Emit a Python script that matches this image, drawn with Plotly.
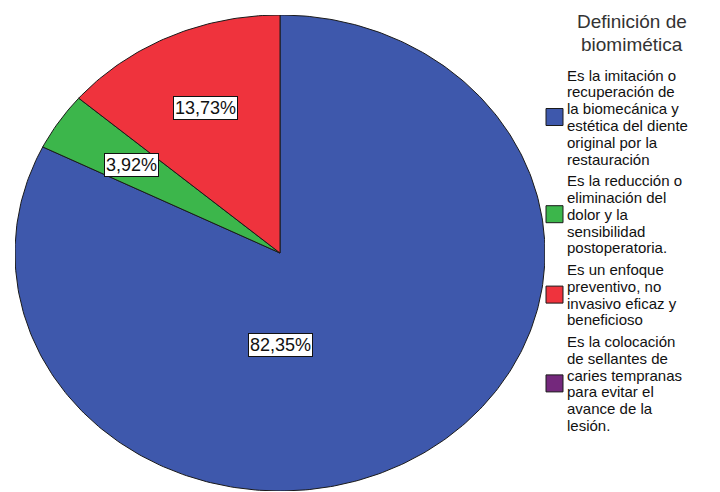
import numpy as np
import plotly.graph_objects as go

# ---------------- data ----------------
categories = [
    "Es la imitación o\nrecuperación de\nla biomecánica y\nestética del diente\noriginal por la\nrestauración",
    "Es la reducción o\neliminación del\ndolor y la\nsensibilidad\npostoperatoria.",
    "Es un enfoque\npreventivo, no\ninvasivo eficaz y\nbeneficioso",
    "Es la colocación\nde sellantes de\ncaries tempranas\npara evitar el\navance de la\nlesión.",
]
percentages = [82.35, 3.92, 13.73, 0.0]
value_labels = ["82,35%", "3,92%", "13,73%", ""]
legend_title_lines = ["Definición de", "biomimética"]

# ---------------- style ----------------
colors = ["#3E58AC", "#3CB64B", "#EF333D", "#74287C"]
W, H = 720, 492
PIE_LEFT, PIE_RIGHT, PIE_TOP, PIE_BOTTOM = 15, 545, 15, 491
LABEL_R = 0.67
LABEL_OVERRIDE = {0: (180.0, 0.387)}   # (angle deg, radius) for the big slice
FONT = "Liberation Sans, Arial, sans-serif"

fig = go.Figure()

total = sum(percentages)
fracs = [p / total for p in percentages]
cum = np.concatenate([[0.0], np.cumsum(fracs)])

annotations = []
for i, f in enumerate(fracs):
    if f <= 0:
        continue
    a0, a1 = cum[i] * 2 * np.pi, cum[i + 1] * 2 * np.pi
    n = max(4, int(f * 400))
    t = np.linspace(a0, a1, n)
    xs = np.concatenate([[0.0], np.sin(t), [0.0]])
    ys = np.concatenate([[0.0], np.cos(t), [0.0]])
    fig.add_trace(go.Scatter(
        x=xs, y=ys, mode="lines", fill="toself", fillcolor=colors[i],
        line=dict(color="#1a1a1a", width=1), showlegend=False, hoverinfo="skip",
    ))
    if i in LABEL_OVERRIDE:
        ang, r = LABEL_OVERRIDE[i]
        ang = np.deg2rad(ang)
    else:
        ang, r = (a0 + a1) / 2, LABEL_R
    annotations.append(dict(
        x=r * np.sin(ang), y=r * np.cos(ang), xref="x", yref="y",
        text=value_labels[i], showarrow=False,
        font=dict(family=FONT, size=18, color="#111111"),
        bgcolor="white", bordercolor="#111111", borderwidth=1, borderpad=1,
    ))

# ---------------- legend (manual) ----------------
shapes = []
LINE_H = 16.8
ENTRY_GAP = 21.6
y = 75.0
for i, cat in enumerate(categories):
    lines = cat.split("\n")
    ys_l = []
    for ln in lines:
        ys_l.append(y)
        annotations.append(dict(
            x=566 / W, y=1 - y / H, xref="paper", yref="paper",
            xanchor="left", yanchor="middle", text=ln, showarrow=False,
            borderpad=0,
            font=dict(family=FONT, size=15, color="#111111"),
        ))
        y += LINE_H
    y += ENTRY_GAP - LINE_H
    yc = (ys_l[0] + ys_l[-1]) / 2
    shapes.append(dict(
        type="rect", xref="paper", yref="paper",
        x0=546 / W, x1=563 / W, y0=1 - (yc - 8.5) / H, y1=1 - (yc + 8.5) / H,
        fillcolor=colors[i], line=dict(color="#1a1a1a", width=1),
    ))

for k, tl in enumerate(legend_title_lines):
    annotations.append(dict(
        x=632 / W, y=1 - (22 + 22 * k) / H, xref="paper", yref="paper",
        xanchor="center", yanchor="middle", text=tl, showarrow=False,
        borderpad=0,
        font=dict(family=FONT, size=19, color="#333333"),
    ))

fig.update_layout(
    width=W, height=H, margin=dict(l=0, r=0, t=0, b=0),
    paper_bgcolor="white", plot_bgcolor="white",
    xaxis=dict(domain=[PIE_LEFT / W, PIE_RIGHT / W], range=[-1, 1], visible=False, fixedrange=True),
    yaxis=dict(domain=[1 - PIE_BOTTOM / H, 1 - PIE_TOP / H], range=[-1, 1], visible=False, fixedrange=True),
    annotations=annotations, shapes=shapes, showlegend=False,
)

fig.write_html("out.html")
